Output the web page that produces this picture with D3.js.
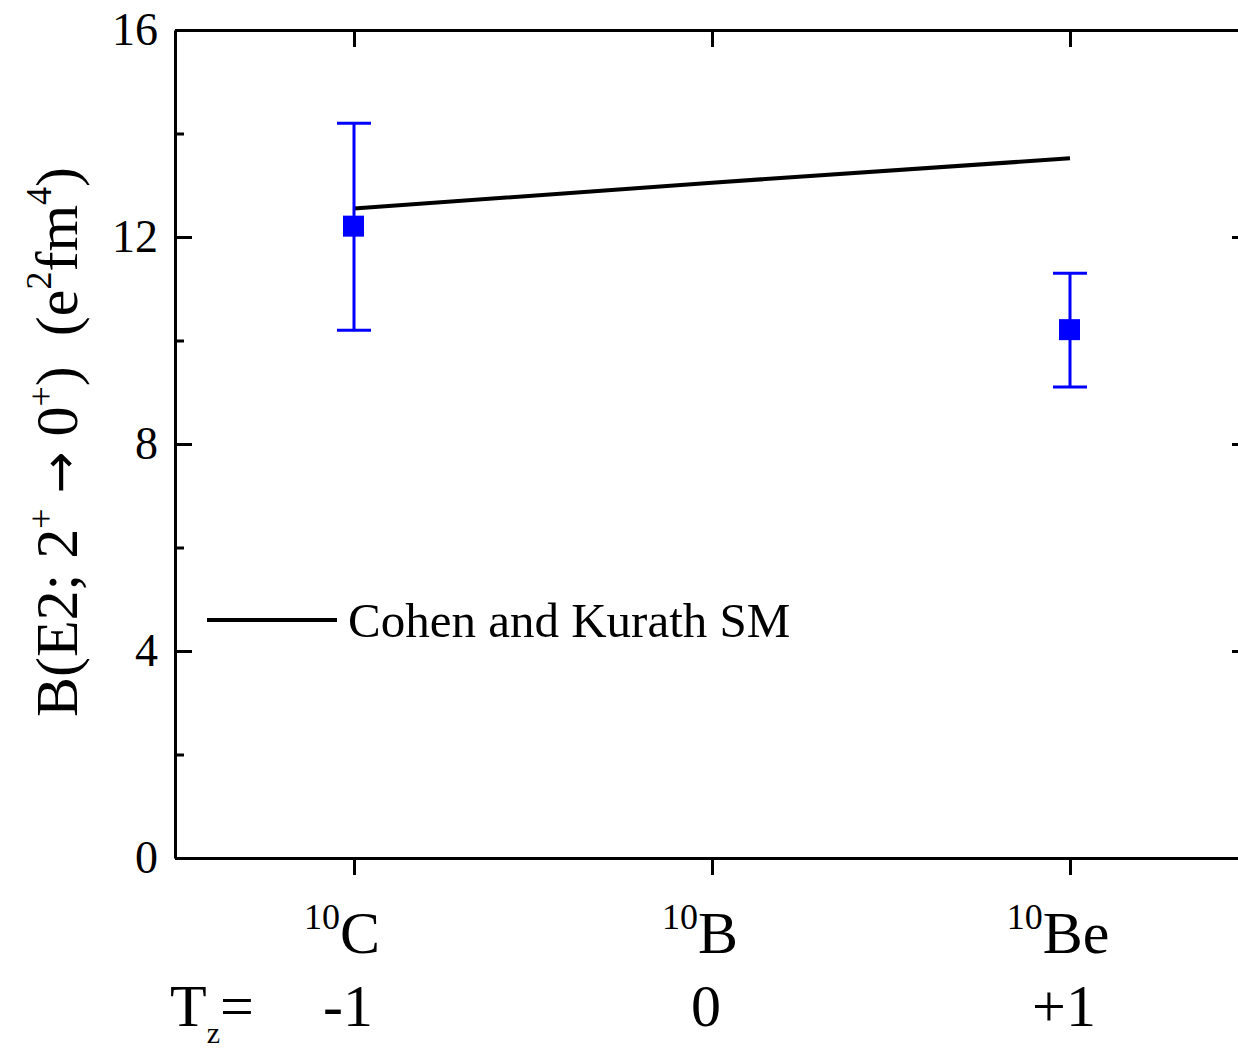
<!DOCTYPE html>
<html>
<head>
<meta charset="utf-8">
<script src="https://cdn.jsdelivr.net/npm/d3@7"></script>
<title>B(E2) mirror nuclei</title>
<style>
  body { margin: 0; background: #fff; }
  svg text { font-family: "Liberation Serif", "Times New Roman", serif; fill: #000; }
  .axis path, .axis line { stroke: #000; stroke-width: 3px; }
</style>
</head>
<body>
<div id="chart"></div>
<script>
// data
var tz = [-1, 0, 1];
var nuclei = ["C", "B", "Be"];
var massNumber = "10";
var tzLabels = ["-1", "0", "+1"];

var expTz = [-1, 1];
var expValue = [12.2, 10.2];
var expErr = [2.0, 1.1];

var smTz = [-1, 0, 1];
var smValue = [12.55, 13.05, 13.52];

var yTicks = [0, 4, 8, 12, 16];
var yMinor = [2, 6, 10, 14];

var width = 1238, height = 1050;
var m = {left: 175, top: 30, right: 1249, bottom: 858};

var svg = d3.select("#chart").append("svg")
    .attr("width", width)
    .attr("height", height);

var x = d3.scaleLinear().domain([-1.5, 1.5]).range([m.left, m.right]);
var y = d3.scaleLinear().domain([0, 16]).range([m.bottom, m.top]);

// left axis, ticks inward
var gl = svg.append("g").attr("class", "axis")
    .attr("transform", "translate(" + m.left + ",0)")
    .call(d3.axisRight(y).tickValues(yTicks).tickSize(17).tickSizeOuter(0).tickFormat(""));
gl.append("g").call(d3.axisRight(y).tickValues(yMinor).tickSize(9).tickFormat(""))
  .select(".domain").remove();

// left tick labels
svg.append("g").selectAll("text")
    .data(yTicks)
  .enter().append("text")
    .attr("x", m.left - 17)
    .attr("y", function(d) { return y(d) + 15; })
    .attr("text-anchor", "end")
    .style("font-size", "46px")
    .text(function(d) { return d; });

// right axis (cut by the window)
var gr = svg.append("g").attr("class", "axis")
    .attr("transform", "translate(" + m.right + ",0)")
    .call(d3.axisLeft(y).tickValues(yTicks).tickSize(17).tickSizeOuter(0).tickFormat(""));
gr.append("g").call(d3.axisLeft(y).tickValues(yMinor).tickSize(9).tickFormat(""))
  .select(".domain").remove();

// top axis, ticks inward
svg.append("g").attr("class", "axis")
    .attr("transform", "translate(0," + m.top + ")")
    .call(d3.axisBottom(x).tickValues(tz).tickSize(17).tickSizeOuter(0).tickFormat(""));

// bottom axis, ticks outward
svg.append("g").attr("class", "axis")
    .attr("transform", "translate(0," + m.bottom + ")")
    .call(d3.axisBottom(x).tickValues(tz).tickSize(17).tickSizeOuter(0).tickFormat(""));

svg.selectAll(".axis .tick line").attr("stroke", "#000").attr("stroke-width", 3);

// nucleus labels
var nl = svg.append("g").selectAll("text")
    .data(tz)
  .enter().append("text")
    .attr("x", function(d) { return x(d) - 12; })
    .attr("y", 953)
    .attr("text-anchor", "middle");
nl.append("tspan")
    .style("font-size", "36px")
    .attr("dy", -24)
    .text(massNumber);
nl.append("tspan")
    .style("font-size", "60px")
    .attr("dy", 24)
    .text(function(d, i) { return nuclei[i]; });

// Tz row
var tzt = svg.append("text")
    .attr("x", 170)
    .attr("y", 1026)
    .style("font-size", "60px");
tzt.append("tspan").text("T");
tzt.append("tspan").style("font-size", "30px").attr("dy", 17).text("z");
tzt.append("tspan").attr("dy", -17).text("=");

svg.append("g").selectAll("text")
    .data(tz)
  .enter().append("text")
    .attr("x", function(d) { return x(d) - 6; })
    .attr("y", 1026)
    .attr("text-anchor", "middle")
    .style("font-size", "60px")
    .text(function(d, i) { return tzLabels[i]; });

// y label
var yl = svg.append("text")
    .attr("transform", "translate(77,442) rotate(-90)")
    .attr("text-anchor", "middle")
    .style("font-size", "60px");
yl.append("tspan").text("B(E2; 2");
yl.append("tspan").style("font-size", "36px").attr("dy", -24).text("+");
yl.append("tspan").attr("dy", 24).text(" ");
yl.append("tspan").style("font-family", "DejaVu Sans").style("font-size", "50px").text("\u2192");
yl.append("tspan").text(" 0");
yl.append("tspan").style("font-size", "36px").attr("dy", -24).text("+");
yl.append("tspan").attr("dy", 24).text(")\u00a0\u00a0(e");
yl.append("tspan").style("font-size", "36px").attr("dy", -26).text("2");
yl.append("tspan").attr("dy", 26).text("fm");
yl.append("tspan").style("font-size", "36px").attr("dy", -26).text("4");
yl.append("tspan").attr("dy", 26).text(")");

// shell model line
var line = d3.line()
    .x(function(d, i) { return x(smTz[i]); })
    .y(function(d) { return y(d); });
svg.append("path")
    .datum(smValue)
    .attr("d", line)
    .attr("fill", "none")
    .attr("stroke", "#000")
    .attr("stroke-width", 4);

// experimental points with error bars
var blue = "#0000ff";
var pts = svg.append("g").selectAll("g")
    .data(expTz)
  .enter().append("g");
pts.append("line")
    .attr("x1", function(d) { return x(d); })
    .attr("x2", function(d) { return x(d); })
    .attr("y1", function(d, i) { return y(expValue[i] - expErr[i]); })
    .attr("y2", function(d, i) { return y(expValue[i] + expErr[i]); })
    .attr("stroke", blue).attr("stroke-width", 3);
[-1, 1].forEach(function(s) {
  pts.append("line")
      .attr("x1", function(d) { return x(d) - 17; })
      .attr("x2", function(d) { return x(d) + 17; })
      .attr("y1", function(d, i) { return y(expValue[i] + s * expErr[i]); })
      .attr("y2", function(d, i) { return y(expValue[i] + s * expErr[i]); })
      .attr("stroke", blue).attr("stroke-width", 3);
});
pts.append("rect")
    .attr("x", function(d) { return x(d) - 11; })
    .attr("y", function(d, i) { return y(expValue[i]) - 11; })
    .attr("width", 21)
    .attr("height", 21)
    .attr("fill", blue);

// legend
svg.append("line")
    .attr("x1", 207).attr("x2", 337)
    .attr("y1", 620).attr("y2", 620)
    .attr("stroke", "#000").attr("stroke-width", 4);
svg.append("text")
    .attr("x", 348)
    .attr("y", 637)
    .style("font-size", "49px")
    .text("Cohen and Kurath SM");
</script>
</body>
</html>
